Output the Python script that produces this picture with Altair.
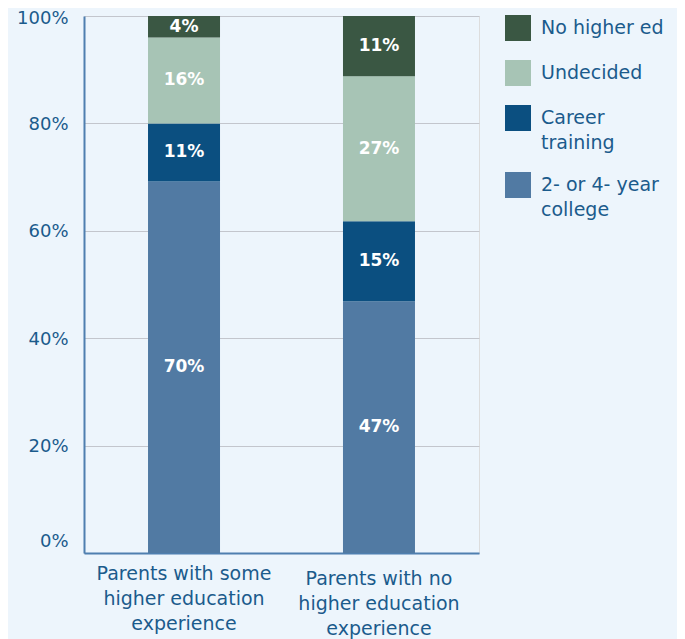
import altair as alt
import pandas as pd

groups = ["Parents with some|higher education|experience",
          "Parents with no|higher education|experience"]
categories = ["2- or 4- year college", "Career training", "Undecided", "No higher ed"]
values_some = [69.2, 10.8, 16.0, 4.0]
values_none = [46.9, 14.9, 27.0, 11.2]
labels_some = ["70%", "11%", "16%", "4%"]
labels_none = ["47%", "15%", "27%", "11%"]
legend_order = ["No higher ed", "Undecided", "Career training", "2- or 4- year college"]
legend_colors = ["#3A5743", "#A7C4B5", "#0B4F80", "#517AA3"]
y_ticks = [0, 20, 40, 60, 80, 100]

rows = []
for g, vals, labs in [(groups[0], values_some, labels_some), (groups[1], values_none, labels_none)]:
    for i, (c, v, l) in enumerate(zip(categories, vals, labs)):
        rows.append({"group": g, "cat": c, "value": v, "label": l, "order": i})
df = pd.DataFrame(rows)

FONT = "DejaVu Sans"
TXT = "#1B5B8C"
DY = 6

base = alt.Chart(df).transform_stack(
    stack="value", as_=["y0", "y1"], groupby=["group"],
    sort=[alt.SortField("order", order="ascending")]
).transform_calculate(mid="(datum.y0 + datum.y1) / 2")

xenc = alt.X("group:N", sort=groups,
             scale=alt.Scale(paddingInner=0, paddingOuter=0.013),
             axis=alt.Axis(title=None, labelAngle=0, labelExpr="split(datum.label, '|')",
                           labelFont=FONT, labelFontSize=19, labelColor=TXT,
                           labelLineHeight=25,
                           labelPadding={"condition": {"test": "datum.value == '%s'" % groups[1], "value": 16 - DY}, "value": 11 - DY},
                           ticks=False,
                           domainColor="#4F7FAF", domainWidth=2, grid=False))

bars = base.mark_bar(size=72).encode(
    x=xenc,
    y=alt.Y("y0:Q", scale=alt.Scale(domain=[0, 100], nice=False),
            axis=alt.Axis(title=None, values=y_ticks, labelExpr="datum.value + '%'",
                          labelFont=FONT, labelFontSize=18, labelColor=TXT,
                          labelPadding=16, ticks=False, domainColor="#4F7FAF",
                          labelOffset={"condition": [
                              {"test": "datum.value == 0", "value": -12 - DY},
                              {"test": "datum.value == 100", "value": 2 - DY}],
                              "value": 1 - DY},
                          labelBound=False,
                          domainWidth=2, grid=True, gridColor="#C3C6CD", gridWidth=1)),
    y2="y1:Q",
    color=alt.Color("cat:N", scale=alt.Scale(domain=legend_order, range=legend_colors),
                    legend=alt.Legend(title=None, orient="none", legendX=421, legendY=-1,
                                      symbolType="square", symbolSize=676,
                                      symbolStrokeWidth=0, symbolOpacity=1,
                                      labelFont=FONT, labelFontSize=19, labelColor=TXT,
                                      labelOffset=10, labelBaseline="alphabetic",
                                      rowPadding=19, labelLimit=200,
                                      labelExpr="datum.label == 'Career training' ? ['Career', 'training'] : datum.label == '2- or 4- year college' ? ['2- or 4- year', 'college'] : datum.label")),
)

text = base.mark_text(color="white", fontWeight="bold", fontSize=17, font=FONT).encode(
    x=alt.X("group:N", sort=groups),
    y=alt.Y("mid:Q"),
    text="label:N",
)

chart = alt.layer(bars, text).properties(
    width=395, height=537,
    autosize="none",
    padding={"left": 76, "top": 8, "right": 198, "bottom": 95},
    background="#EDF5FC",
).configure_view(stroke=None).configure(style={"guide-label": {"lineHeight": 25, "dy": DY}})

chart.save("out.html", embed_options={"renderer": "svg", "actions": False})
